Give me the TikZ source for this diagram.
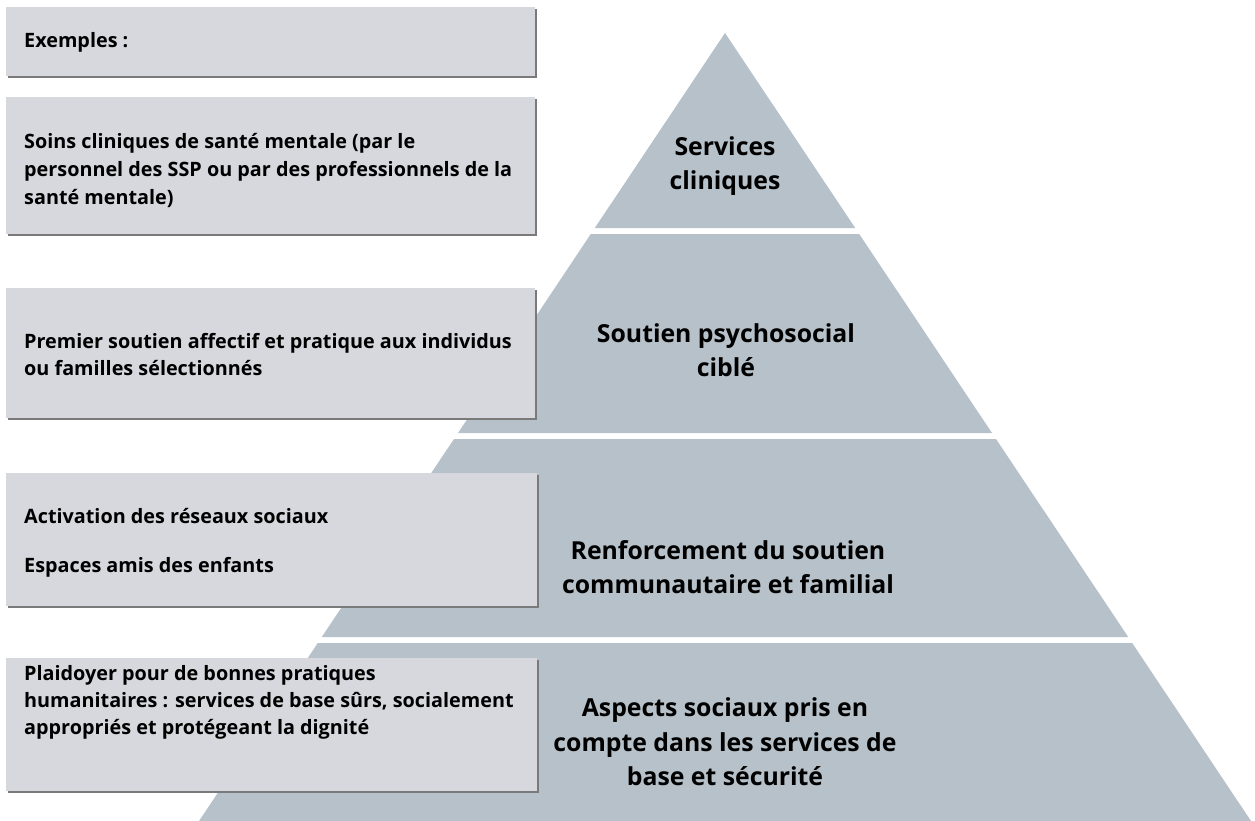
\documentclass[tikz,border=0pt]{standalone}
\usepackage{fontspec}
\setmainfont{Open Sans}
\usetikzlibrary{shadows}
\definecolor{pyr}{HTML}{B7C1C9}
\definecolor{boxc}{HTML}{D7D8DD}
\definecolor{shad}{HTML}{7A7A7A}
\begin{document}
\begin{tikzpicture}[x=1pt,y=-1pt,
  lvl/.style={fill=pyr,draw=none},
  lbl/.style={font=\bfseries\fontsize{24.8}{34.5}\selectfont,align=center,text=black,inner sep=0pt},
  exbox/.style={fill=boxc,draw=none,anchor=north west,inner sep=0pt,
    drop shadow={shadow xshift=1.6pt,shadow yshift=-1.6pt,fill=shad,opacity=1}},
  btxt/.style={font=\bfseries\fontsize{19.8}{27}\selectfont,align=left,anchor=west,inner sep=0pt,text=black}]
\useasboundingbox (0,0) rectangle (1255,821);
% pyramid levels
\fill[lvl] (725,33) -- (855.2,228) -- (594.8,228) -- cycle;
\fill[lvl] (590.8,234) -- (859.2,234) -- (992,433) -- (458,433) -- cycle;
\fill[lvl] (454,439) -- (996,439) -- (1128.2,637) -- (321.8,637) -- cycle;
\fill[lvl] (317.8,643) -- (1132.2,643) -- (1251,821) -- (199,821) -- cycle;
% level labels
\node[lbl] (l1) at (725,166) {Services\\cliniques};
\node[lbl] (l2) at (726,350) {Soutien psychosocial\\ciblé};
\node[lbl] (l3) at (728,567) {Renforcement du soutien\\communautaire et familial};
\node[lbl] (l4) at (725,742) {Aspects sociaux pris en\\compte dans les services de\\base et sécurité};
% example boxes
\node[exbox,minimum width=529pt,minimum height=69pt] (b1) at (6,7) {};
\node[exbox,minimum width=529pt,minimum height=137pt] (b2) at (6,97) {};
\node[exbox,minimum width=529pt,minimum height=130pt] (b3) at (6,288) {};
\node[exbox,minimum width=531pt,minimum height=133pt] (b4) at (6,473) {};
\node[exbox,minimum width=531pt,minimum height=133pt] (b5) at (6,658) {};
% box texts
\node[btxt] (t1) at (24,42) {Exemples :};
\node[btxt,font=\bfseries\fontsize{19.8}{28}\selectfont] (t2) at (24,170) {Soins cliniques de santé mentale (par le\\personnel des SSP ou par des professionnels de la\\santé mentale)};
\node[btxt] (t3) at (24,355) {Premier soutien affectif et pratique aux individus\\ou familles sélectionnés};
\node[btxt] (t4) at (24,543) {Activation des réseaux sociaux\\[22pt]Espaces amis des enfants};
\node[btxt] (t5) at (24,702) {Plaidoyer pour de bonnes pratiques\\humanitaires : services de base sûrs, socialement\\appropriés et protégeant la dignité};
\end{tikzpicture}
\end{document}
